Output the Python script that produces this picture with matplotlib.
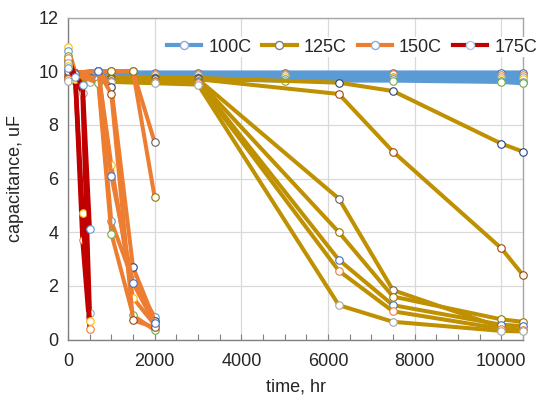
import matplotlib
matplotlib.use("Agg")
import matplotlib.pyplot as plt
from matplotlib.lines import Line2D

plt.rcParams['font.family'] = ['Liberation Sans', 'DejaVu Sans']

# ---- data ----
t100 = [0, 168, 500, 1000, 2000, 3000, 5000, 7500, 10000, 10500]
cap100 = [
    [9.90, 9.95, 9.95, 9.95, 9.95, 9.95, 9.95, 9.95, 9.95, 9.95],
    [9.85, 9.90, 9.90, 9.90, 9.90, 9.90, 9.90, 9.90, 9.85, 9.85],
    [9.80, 9.85, 9.85, 9.85, 9.85, 9.85, 9.85, 9.80, 9.80, 9.80],
    [9.75, 9.80, 9.80, 9.80, 9.80, 9.80, 9.80, 9.75, 9.70, 9.70],
    [9.70, 9.80, 9.80, 9.75, 9.75, 9.75, 9.70, 9.70, 9.65, 9.60],
    [9.70, 9.75, 9.75, 9.70, 9.70, 9.70, 9.65, 9.65, 9.60, 9.55],
]

t125 = [0, 168, 500, 1000, 2000, 3000, 6250, 7500, 10000, 10500]
cap125 = [
    [9.80, 9.75, 9.75, 9.75, 9.75, 9.75, 9.57, 9.26, 7.30, 7.00],
    [9.75, 9.70, 9.70, 9.70, 9.70, 9.70, 9.15, 7.00, 3.40, 2.40],
    [9.80, 9.75, 9.75, 9.70, 9.70, 9.70, 5.25, 1.84, 0.45, 0.35],
    [9.75, 9.70, 9.70, 9.70, 9.65, 9.65, 4.00, 1.60, 0.75, 0.66],
    [9.70, 9.70, 9.70, 9.65, 9.60, 9.60, 2.97, 1.28, 0.55, 0.50],
    [9.70, 9.65, 9.65, 9.60, 9.60, 9.55, 2.56, 1.05, 0.40, 0.35],
    [9.65, 9.65, 9.60, 9.60, 9.55, 9.50, 1.28, 0.66, 0.32, 0.30],
]

t150 = [0, 168, 700, 1000, 1500, 2000]
cap150 = [
    [10.90, 9.95, 10.00, 6.50, 1.55, 0.55],
    [10.75, 9.95, 9.70, 4.40, 2.20, 0.85],
    [10.55, 9.90, 9.55, 3.95, 0.90, 0.35],
    [10.30, 9.95, 10.00, 9.40, 2.70, 0.70],
    [10.10, 9.90, 10.00, 9.15, 0.72, 0.45],
    [10.00, 9.95, 10.00, 10.00, 10.00, 7.35],
    [10.40, 9.95, 10.00, 10.00, 10.00, 5.30],
    [10.20, 9.90, 10.00, 6.10, 2.10, 0.60],
]

t175 = [0, 168, 336, 500]
cap175 = [
    [10.50, 9.80, 3.70, 0.40],
    [10.30, 9.75, 9.20, 1.00],
    [10.20, 9.70, 4.70, 0.70],
    [10.10, 9.80, 9.50, 4.10],
]

labels = ['100C', '125C', '150C', '175C']
line_colors = ['#5B9BD5', '#BF9000', '#ED7D31', '#C00000']
marker_cycle = ['#4472C4', '#ED7D31', '#A5A5A5', '#FFC000', '#5B9BD5',
                '#70AD47', '#264478', '#9E480E', '#636363', '#997300']

fig = plt.figure(figsize=(5.54, 4.03), dpi=100)
ax = fig.add_axes([68/554, 1-339.5/403, (523-68)/554, (339.5-17.5)/403])

groups = [(t100, cap100, 3.0), (t125, cap125, 2.9), (t150, cap150, 2.9), (t175, cap175, 3.3)]
k = 0
for gi, (tt, series, lw) in enumerate(groups):
    for s in series:
        ax.plot(tt, s, color=line_colors[gi], lw=lw, marker='o', markersize=5.4,
                markerfacecolor='white', markeredgecolor=marker_cycle[k % len(marker_cycle)],
                markeredgewidth=0.8, zorder=3 + gi, clip_on=False,
                solid_joinstyle='round')
        k += 1

ax.set_xlim(0, 10500)
ax.set_ylim(0, 12)
ax.set_xticks(range(0, 10001, 2000))
ax.set_xticks(range(0, 10501, 500), minor=True)
ax.set_yticks(range(0, 13, 2))
ax.grid(True, which='major', color='#D9D9D9', lw=0.9, zorder=0)
ax.set_axisbelow(True)
ax.tick_params(axis='x', which='minor', direction='in', length=4, width=0.8, color='#808080')
ax.tick_params(axis='x', which='major', direction='in', length=4, width=0.8, color='#808080',
               labelsize=13, labelcolor='#262626', pad=10)
ax.tick_params(axis='y', which='both', length=0, labelsize=13, labelcolor='#262626', pad=7)
for side in ['left', 'bottom']:
    ax.spines[side].set_color('#808080')
    ax.spines[side].set_linewidth(1.0)
for side in ['top', 'right']:
    ax.spines[side].set_color('#A6A6A6')
    ax.spines[side].set_linewidth(1.0)

ax.set_xlabel('time, hr', fontsize=13, color='#262626', labelpad=6)
ax.set_ylabel('capacitance, uF', fontsize=13, color='#262626', labelpad=10)

legend_edges = ['#8EA9DB', '#7F7F7F', '#8EA9DB', '#B4C7E7']
handles = [Line2D([0], [0], color=line_colors[i], lw=3, marker='o', markersize=5.8,
                  markerfacecolor='white', markeredgecolor=legend_edges[i], markeredgewidth=1.0)
           for i in range(4)]
leg = fig.legend(handles, labels, loc='center', bbox_to_anchor=(352/554, 1-47/403),
                 ncol=4, frameon=True, fontsize=13, handlelength=1.9, handletextpad=0.4,
                 columnspacing=0.6, borderpad=0.1)
leg.get_frame().set_facecolor('white')
leg.get_frame().set_edgecolor('none')
leg.get_frame().set_alpha(1)
leg.set_zorder(10)
for txt in leg.get_texts():
    txt.set_color('#262626')

fig.savefig('out.png', dpi=100)
